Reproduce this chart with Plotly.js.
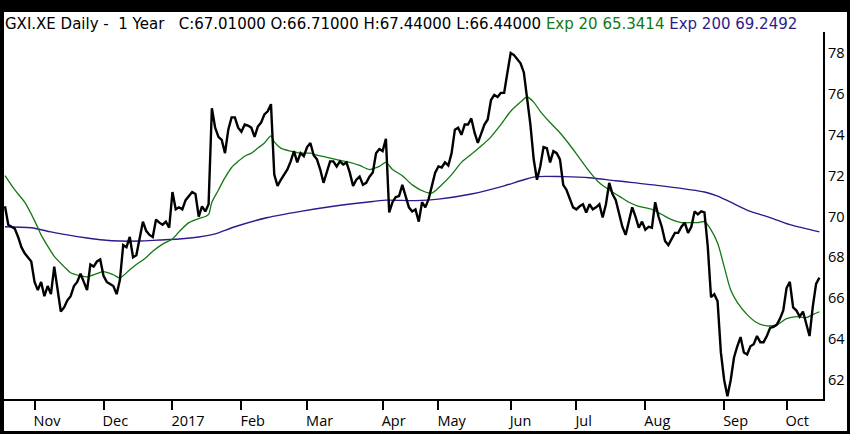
<!DOCTYPE html>
<html>
<head>
<meta charset="utf-8">
<script src="https://cdn.plot.ly/plotly-3.0.1.min.js"></script>
<style>
  html, body { margin: 0; padding: 0; background: #000; width: 850px; height: 434px; overflow: hidden; }
  #chart { position: absolute; left: 4px; top: 12px; width: 843px; height: 419px; background: #fff; }
</style>
</head>
<body>
<div id="chart"></div>
<script>
// Daily closes, one per trading day (day index = position in array)
const closes = [
  70.5, 69.6, 69.5, 69.4, 69.0, 68.5, 68.2, 68.0, 67.8, 66.8,
  66.4, 66.8, 66.1, 66.6, 66.2, 67.55, 66.4, 65.35, 65.55, 65.9,
  66.1, 66.6, 66.8, 67.2, 66.8, 66.4, 67.65, 67.55, 67.8, 67.9,
  67.1, 66.8, 66.7, 66.6, 66.2, 66.9, 68.6, 68.5, 69.0, 68.0,
  68.1, 69.0, 69.75, 69.3, 69.1, 69.0, 69.85, 69.7, 69.6, 69.75,
  69.45, 71.2, 70.35, 70.45, 70.35, 70.8, 71.0, 71.2, 71.1, 70.0,
  70.5, 70.25, 70.6, 75.3, 74.35, 73.9, 73.75, 73.1, 74.25, 74.85,
  74.85, 74.35, 74.15, 74.5, 74.45, 74.35, 73.9, 74.4, 74.6, 75.0,
  75.15, 75.5, 72.05, 71.5, 71.8, 72.05, 72.3, 72.7, 73.2, 72.65,
  73.1, 72.95, 73.4, 73.6, 73.0, 72.8, 72.3, 71.65, 72.2, 72.7,
  72.7, 72.45, 72.7, 72.55, 72.65, 72.15, 71.5, 71.8, 71.95, 71.55,
  71.65, 71.95, 72.15, 73.1, 73.3, 73.2, 73.8, 70.2, 70.7, 70.95,
  71.0, 71.55, 71.0, 70.45, 70.25, 70.35, 69.75, 70.7, 70.45, 70.85,
  71.5, 72.15, 72.45, 72.4, 72.65, 72.5, 73.1, 74.25, 74.35, 74.0,
  74.5, 74.5, 74.8, 74.1, 73.6, 74.1, 74.5, 74.75, 75.7, 75.95,
  75.85, 76.05, 76.05, 77.05, 78.0, 77.9, 77.7, 77.5, 77.05, 75.7,
  74.5, 72.8, 71.8, 72.45, 73.4, 73.35, 72.65, 73.2, 73.1, 72.8,
  71.55, 71.3, 70.85, 70.45, 70.35, 70.5, 70.6, 70.2, 70.6, 70.35,
  70.45, 70.6, 69.95, 70.6, 71.65, 71.1, 70.8, 70.1, 69.5, 69.1,
  69.85, 70.45, 70.0, 69.45, 69.75, 69.35, 69.5, 69.45, 70.7, 70.0,
  69.5, 68.8, 68.6, 68.9, 69.2, 69.2, 69.5, 69.7, 69.2, 69.5,
  70.25, 70.1, 70.25, 70.2, 68.55, 66.05, 66.2, 65.85, 63.35, 62.0,
  61.2, 62.0, 63.1, 63.65, 64.1, 63.35, 63.25, 63.65, 63.75, 64.15,
  63.85, 63.85, 64.15, 64.55, 64.6, 64.7, 65.0, 65.4, 66.5, 66.8,
  65.55, 65.4, 65.1, 65.35, 64.8, 64.15, 65.6, 66.7, 67.01
];

// Exp 20 readings (day index, value)
const ema20Day = [0, 3, 6, 9, 11, 13, 15, 18, 20, 23, 25, 28, 30, 33, 35, 38, 40, 43, 45, 48,
  51, 53, 56, 59, 61, 62, 63, 65, 67, 69, 71, 73, 75, 77, 79, 81, 82, 84, 87, 90,
  93, 95, 98, 102, 105, 108, 111, 114, 116, 118, 121, 124, 128, 130, 133, 136, 139, 142, 145, 148,
  151, 154, 157, 159, 161, 163, 166, 169, 172, 175, 178, 181, 184, 187, 190, 193, 197, 200, 203, 206,
  209, 211, 213, 215, 217, 219, 221, 223, 226, 229, 232, 235, 238, 241, 244, 246, 248];
const ema20 = [72.0, 71.3, 70.7, 69.8, 69.1, 68.55, 68.05, 67.55, 67.25, 67.1, 67.05, 67.2, 67.3, 67.15, 67.0, 67.4, 67.65, 68.0, 68.3, 68.65,
  68.9, 69.25, 69.7, 69.9, 70.0, 70.1, 70.7, 71.3, 71.9, 72.4, 72.7, 72.95, 73.1, 73.35, 73.6, 73.95, 73.65, 73.35, 73.2, 73.1,
  73.1, 73.0, 72.9, 72.75, 72.65, 72.5, 72.3, 72.45, 72.65, 72.3, 72.0, 71.55, 71.2, 71.15, 71.55, 72.05, 72.65, 73.05, 73.45, 73.9,
  74.5, 75.15, 75.6, 75.85, 75.6, 75.15, 74.6, 74.1, 73.5, 72.85, 72.2, 71.65, 71.3, 71.0, 70.7, 70.5, 70.35, 70.1, 69.85, 69.7,
  69.7, 69.7, 69.75, 69.35, 68.7, 67.55, 66.4, 65.8, 65.2, 64.8, 64.65, 64.7, 65.0, 65.1, 65.05, 65.2, 65.34];

// Exp 200 readings (day index, value)
const ema200Day = [0, 8, 14, 19, 25, 30, 35, 41, 47, 53, 59, 64, 70, 80, 90, 100, 110, 116, 125, 132,
  142, 152, 158, 162, 170, 178, 186, 200, 213, 217, 221, 227, 233, 239, 248];
const ema200 = [69.5, 69.45, 69.25, 69.1, 68.95, 68.85, 68.8, 68.8, 68.85, 68.9, 69.0, 69.15, 69.5, 69.95, 70.25, 70.5, 70.7, 70.8, 70.78, 70.85,
  71.1, 71.5, 71.8, 71.95, 71.95, 71.9, 71.75, 71.5, 71.2, 71.0, 70.7, 70.25, 69.95, 69.6, 69.25];

// Month tick positions (day index of first trading day) and labels
const monthTickDay = [9, 30, 51, 72, 92, 115, 132, 154, 174, 195, 219, 238];
const monthLabels = ['Nov', 'Dec', '2017', 'Feb', 'Mar', 'Apr', 'May', 'Jun', 'Jul', 'Aug', 'Sep', 'Oct'];
const priceTicks = [62, 64, 66, 68, 70, 72, 74, 76, 78];

const days = closes.map((_, i) => i);

const FONT = 'Open Sans, Liberation Sans, sans-serif';
const TITLE_FONT = 'DejaVu Sans, sans-serif';
const GREEN = '#127812';
const PURPLE = '#2e1a8c';
const NB = '\u00A0';

const titleText =
  'GXI.XE Daily -' + NB + NB + '1 Year' + NB + NB + NB +
  'C:67.01000 O:66.71000 H:67.44000 L:66.44000 ' +
  '<span style="color:' + GREEN + '">Exp 20 65.3414</span> ' +
  '<span style="color:' + PURPLE + '">Exp 200 69.2492</span>';

const traces = [
  { x: ema200Day, y: ema200, type: 'scatter', mode: 'lines', line: { color: PURPLE, width: 1.4, shape: 'spline', smoothing: 0.8 }, hoverinfo: 'skip' },
  { x: ema20Day, y: ema20, type: 'scatter', mode: 'lines', line: { color: GREEN, width: 1.3, shape: 'spline', smoothing: 0.8 }, hoverinfo: 'skip' },
  { x: days, y: closes, type: 'scatter', mode: 'lines', line: { color: '#000', width: 2.4 }, hoverinfo: 'skip' }
];

const layout = {
  width: 843, height: 419,
  margin: { l: 0, r: 24, t: 20, b: 32, pad: 0 },
  paper_bgcolor: '#fff', plot_bgcolor: '#fff',
  showlegend: false,
  font: { family: FONT, size: 14.5, color: '#000' },
  title: {
    text: titleText,
    font: { family: TITLE_FONT, size: 15, color: '#000' },
    xref: 'container', x: 0, xanchor: 'left',
    yref: 'container', y: 0.972, yanchor: 'middle',
    pad: { l: 1, t: 0, b: 0, r: 0 }
  },
  xaxis: {
    range: [-0.3, 249.1],
    showgrid: false, zeroline: false,
    showline: true, linecolor: '#000', linewidth: 2,
    ticks: 'outside', ticklen: 9, tickwidth: 2, tickcolor: '#000',
    tickmode: 'array', tickvals: monthTickDay, ticktext: monthLabels,
    ticklabelposition: 'outside right',
    ticklabelstandoff: 8,
    ticklabelshift: -3,
    tickfont: { family: FONT, size: 14.5, color: '#000' },
    fixedrange: true
  },
  yaxis: {
    side: 'right',
    range: [61.07, 79.03],
    showgrid: false, zeroline: false,
    showline: true, linecolor: '#000', linewidth: 2,
    ticks: '',
    tickmode: 'array', tickvals: priceTicks,
    tickfont: { family: FONT, size: 14.5, color: '#000' },
    fixedrange: true
  }
};

Plotly.newPlot('chart', traces, layout, { staticPlot: true, displayModeBar: false });
</script>
</body>
</html>
